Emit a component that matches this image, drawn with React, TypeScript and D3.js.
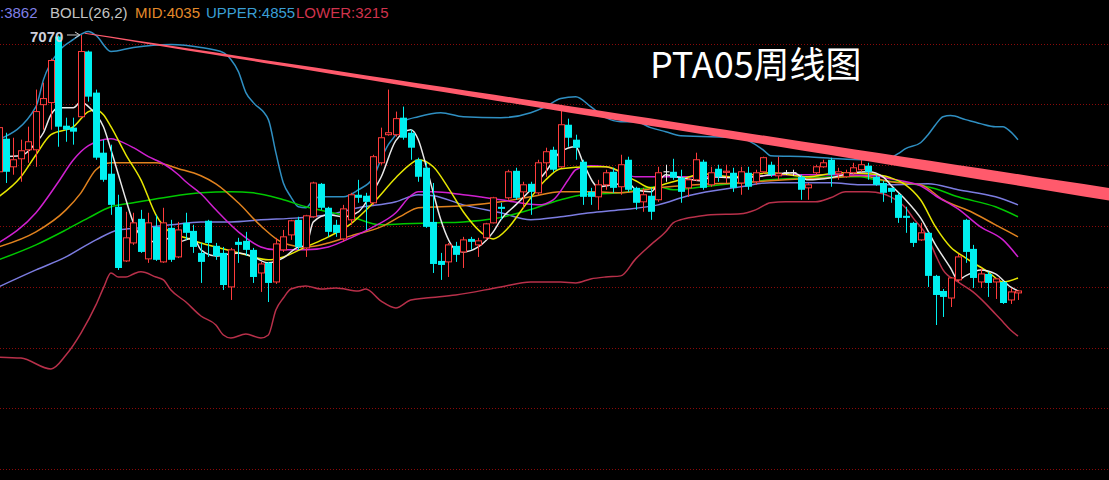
import React from 'react';
import * as d3 from 'd3';

const W = 1109;
const H = 480;
const TITLE = 'PTA05周线图';
const FIRST_WEEK = -1;

// weekly OHLC (week index starts at FIRST_WEEK)
const opens = [5945,6217,5986,6052,6126,6126,6497,6514,7057,6324,6308,6398,6934,6596,6102,5929,5657,5212,5360,5558,5229,5492,5204,5484,5245,5525,5459,5278,5542,5336,5278,4998,5369,5377,5303,5113,5196,5039,5303,5426,5550,5319,5575,5846,5649,5509,5393,5550,5756,5748,5690,6019,6250,6250,6390,6266,6044,5978,5533,5212,5204,5336,5286,5393,5344,5402,5525,5657,5731,5953,5780,5846,5772,6019,6126,5986,6332,6209,6028,5780,5739,5838,5945,5822,6044,5813,5698,5748,5715,5945,5945,5896,5813,5879,6028,5838,5970,5940,5937,5853,5937,5863,5945,6003,5912,5937,5937,5904,5813,5937,5986,6044,5929,5904,5937,5962,5995,5904,5853,5813,5756,5583,5525,5385,5443,5089,4965,4907,5056,5550,5311,5039,5105,5039,5039,4891,4949];
const highs = [6332,6266,6225,6209,6316,6621,6678,6876,7065,6390,6390,7070,6942,6621,6209,6168,5756,5616,5608,5632,5608,5591,5649,5550,5533,5608,5509,5360,5550,5360,5327,5319,5402,5451,5319,5204,5204,5402,5467,5550,5575,5591,5863,5853,5657,5550,5673,5772,5879,5772,6085,6308,6621,6440,6481,6291,6061,6019,5853,5278,5360,5369,5410,5410,5402,5525,5739,5690,5962,5978,5863,5863,6044,6143,6151,6456,6382,6250,6044,5813,5879,5962,5978,6085,6069,5822,5813,5813,5986,6003,6052,5962,5896,6102,6044,5986,6003,6003,5978,5986,5986,5962,6069,6028,6069,5960,5962,5921,5853,6003,6044,6061,5978,5962,6019,6052,6019,5921,5871,5813,5772,5657,5533,5525,5451,5097,4981,5080,5270,5558,5344,5154,5122,5072,5047,4990,4973];
const lows = [5921,5853,5921,5863,6019,5986,6291,6291,6151,6192,6168,6390,6522,6044,5863,5591,5138,5204,5344,5278,5196,5212,5196,5204,5235,5385,5278,5031,5245,5221,4973,4891,5196,5253,5031,4957,4874,5023,5286,5385,5303,5245,5566,5632,5410,5410,5369,5509,5690,5467,5673,6003,6242,6234,6209,6044,5863,5484,5113,5056,5080,5204,5154,5303,5245,5385,5520,5550,5715,5715,5649,5591,5756,5904,5945,5978,6151,6044,5673,5673,5632,5797,5772,5756,5780,5632,5616,5550,5698,5863,5879,5690,5739,5870,5797,5822,5863,5853,5780,5756,5797,5838,5929,5904,5879,5920,5912,5715,5715,5921,5978,5822,5879,5896,5921,5945,5879,5830,5698,5690,5525,5443,5327,5377,4998,4685,4751,4833,5039,5196,4990,4990,4916,4899,4858,4858,4891];
const closes = [6308,5945,6044,6118,6192,6440,6547,6860,6316,6291,6275,6934,6563,6061,5879,5673,5154,5402,5525,5286,5525,5221,5525,5221,5467,5443,5327,5204,5360,5253,5014,5303,5344,5303,5080,5187,5031,5352,5410,5542,5327,5583,5853,5649,5451,5443,5640,5756,5731,5698,6069,6225,6266,6382,6225,6143,5904,5492,5187,5179,5344,5262,5385,5369,5377,5517,5731,5640,5945,5731,5838,5780,6019,6110,5962,6332,6225,6143,5739,5739,5838,5937,5813,6003,5797,5690,5756,5616,5937,5945,5896,5780,5879,6044,5813,5937,5904,5950,5813,5945,5822,5937,6061,5921,5929,5937,5937,5797,5838,5986,6019,5921,5945,5937,5978,6003,5945,5838,5772,5780,5566,5566,5360,5443,5089,4932,4916,5072,5245,5286,5072,5105,5031,5064,4866,4957,4965];

// indicator lines: [week, price]
const ma5: [number, number][] = [[-1,6069],[2,6077],[4,6184],[5,6266],[6,6415],[7,6472],[9,6472],[10,6522],[11,6481],[12,6415],[13,6316],[14,6126],[15,5921],[16,5715],[17,5525],[18,5418],[20,5369],[21,5402],[22,5385],[23,5369],[25,5402],[26,5303],[28,5253],[30,5270],[31,5278],[33,5245],[35,5196],[37,5237],[39,5327],[40,5336],[41,5533],[43,5591],[45,5575],[47,5616],[48,5690],[50,5896],[52,6201],[54,6291],[55,6209],[56,6003],[57,5772],[58,5550],[60,5303],[61,5286],[63,5327],[65,5451],[66,5550],[68,5673],[70,5797],[72,5945],[74,6110],[76,6151],[77,6019],[79,5822],[81,5838],[83,5855],[84,5797],[86,5780],[88,5921],[90,5896],[93,5871],[94,5904],[97,5896],[100,5904],[102,5921],[105,5937],[107,5879],[110,5896],[113,5937],[115,5945],[117,5904],[118,5838],[120,5715],[122,5566],[124,5344],[126,5154],[127,5056],[128,5089],[130,5138],[132,5105],[134,4998],[135,4965]];
const ma10: [number, number][] = [[-1,5739],[2,5904],[4,6085],[6,6250],[9,6316],[11,6440],[12,6456],[13,6415],[14,6316],[16,6085],[18,5879],[20,5591],[22,5443],[24,5402],[26,5360],[28,5327],[32,5262],[35,5221],[37,5245],[40,5327],[43,5410],[46,5517],[49,5690],[52,5896],[54,6011],[55,6044],[57,5986],[59,5813],[61,5616],[64,5418],[65,5393],[67,5484],[69,5649],[72,5879],[74,5970],[78,5986],[80,5986],[84,5871],[86,5813],[88,5846],[90,5879],[93,5929],[97,5904],[102,5937],[107,5904],[111,5937],[115,5929],[118,5896],[120,5838],[122,5715],[124,5492],[126,5327],[128,5237],[131,5122],[133,5039],[135,5072]];
const ma20: [number, number][] = [[-1,5360],[4,5608],[7,5863],[9,6044],[11,6160],[14,6217],[15,6201],[17,6143],[19,6069],[21,6011],[23,5921],[24,5863],[26,5764],[28,5632],[31,5451],[34,5327],[36,5303],[40,5303],[43,5327],[46,5402],[49,5492],[52,5608],[54,5748],[55,5780],[57,5780],[61,5756],[66,5715],[71,5673],[73,5715],[75,5879],[76,5962],[78,5995],[80,5986],[82,5945],[84,5904],[87,5904],[98,5904],[104,5921],[110,5921],[116,5912],[118,5887],[122,5830],[124,5748],[127,5640],[130,5492],[133,5385],[135,5245]];
const ma60: [number, number][] = [[-1,5221],[4,5344],[8,5467],[11,5566],[14,5657],[17,5690],[21,5731],[26,5772],[30,5780],[33,5772],[37,5715],[40,5657],[43,5616],[46,5575],[50,5509],[53,5517],[57,5525],[61,5533],[65,5558],[69,5616],[74,5715],[77,5756],[82,5772],[87,5822],[89,5797],[93,5822],[98,5855],[102,5879],[107,5896],[111,5904],[114,5904],[116,5879],[120,5855],[124,5805],[127,5739],[132,5657],[135,5575]];
const ma120: [number, number][] = [[-1,4998],[4,5138],[8,5245],[12,5385],[15,5467],[18,5484],[22,5509],[26,5533],[30,5533],[34,5550],[39,5566],[43,5591],[47,5649],[52,5698],[55,5756],[57,5748],[61,5673],[66,5608],[70,5550],[74,5575],[78,5608],[82,5632],[87,5673],[91,5748],[98,5822],[102,5855],[110,5855],[114,5838],[118,5838],[123,5846],[127,5797],[132,5739],[135,5673]];
const bollMid: [number, number][] = [[-1,5327],[4,5451],[8,5632],[10,5772],[12,5962],[14,6019],[17,6019],[20,6019],[23,5970],[26,5912],[28,5846],[31,5690],[34,5500],[37,5360],[40,5327],[43,5360],[46,5418],[50,5492],[53,5591],[55,5649],[61,5665],[66,5698],[70,5739],[74,5780],[78,5780],[82,5772],[87,5813],[92,5838],[98,5855],[104,5879],[110,5896],[114,5912],[118,5863],[122,5838],[125,5715],[129,5608],[132,5509],[135,5410]];
const bollUpper: [number, number][] = [[-1,6209],[4,6481],[5,6703],[7,6934],[9,7033],[11,7098],[12,7066],[14,6934],[17,6967],[22,6991],[26,6967],[29,6925],[30,6868],[31,6769],[32,6596],[33,6514],[35,6374],[36,6102],[37,5853],[38,5739],[39,5657],[40,5649],[41,5715],[42,5739],[45,5739],[47,5797],[49,5896],[50,6044],[51,6168],[52,6250],[53,6357],[55,6398],[58,6431],[61,6398],[66,6390],[70,6431],[72,6481],[74,6547],[76,6563],[78,6481],[80,6390],[82,6357],[84,6357],[86,6308],[88,6275],[90,6242],[98,6225],[99,6201],[101,6126],[102,6077],[107,6069],[111,6052],[115,6044],[118,6061],[119,6094],[120,6135],[122,6184],[123,6250],[124,6332],[125,6398],[126,6407],[128,6374],[130,6341],[132,6316],[133,6316],[134,6275],[135,6209]];
const bollLower: [number, number][] = [[-1,4421],[2,4413],[6,4323],[8,4438],[10,4619],[12,4850],[13,4990],[14,5113],[15,5080],[16,5080],[17,5105],[18,5122],[20,5080],[21,5056],[22,4973],[24,4874],[26,4759],[28,4685],[29,4603],[30,4578],[32,4611],[34,4578],[35,4603],[36,4809],[37,4907],[38,4981],[40,5006],[42,4981],[44,4990],[47,4965],[48,4981],[50,4883],[52,4825],[54,4891],[56,4907],[60,4932],[66,4998],[70,5039],[74,5039],[76,5031],[78,5064],[80,5080],[82,5089],[84,5229],[86,5344],[88,5451],[89,5525],[90,5550],[92,5575],[94,5591],[98,5599],[100,5632],[102,5690],[104,5698],[108,5698],[110,5731],[112,5780],[115,5780],[117,5764],[118,5739],[120,5649],[121,5566],[123,5402],[124,5262],[125,5138],[127,5039],[129,4957],[132,4776],[133,4710],[134,4644],[135,4594]];

const gridPrices = [7000, 6500, 6000, 5500, 5000, 4500, 4000, 3500];
const peakPrice = 7070;
const peakWeek = 10;
const trendStart: [number, number] = [10.5, 7085];
const trendEnd: [number, number] = [147.2, 5760];

const legend = [
  { text: ':3862', color: '#7f7fe6', x: 0 },
  { text: 'BOLL(26,2)', color: '#c4c4c4', x: 50 },
  { text: 'MID:4035', color: '#e58a2a', x: 135 },
  { text: 'UPPER:4855', color: '#3a9fd6', x: 206 },
  { text: 'LOWER:3215', color: '#d0334c', x: 296 },
];

const UP = '#ff3c3c';
const DOWN = '#00f0f0';

export default function App() {
  const x = d3.scaleLinear().domain([0, 135]).range([6, 1018]);
  const y = d3.scaleLinear().domain([3500, 7000]).range([469.1, 43.5]);

  const line = d3
    .line<[number, number]>()
    .x((d) => x(d[0]))
    .y((d) => y(d[1]))
    .curve(d3.curveMonotoneX);

  const series: { data: [number, number][]; color: string }[] = [
    { data: bollLower, color: '#b8304a' },
    { data: bollUpper, color: '#2f8fc2' },
    { data: ma120, color: '#7c7ce0' },
    { data: ma60, color: '#00c800' },
    { data: bollMid, color: '#e0821e' },
    { data: ma20, color: '#d020d0' },
    { data: ma10, color: '#e6e600' },
    { data: ma5, color: '#e8e8e8' },
  ];

  // trend line as a widening band
  const tx0 = x(trendStart[0]);
  const ty0 = y(trendStart[1]);
  const tx1 = x(trendEnd[0]);
  const ty1 = y(trendEnd[1]);
  const steps = 40;
  const top: string[] = [];
  const bot: string[] = [];
  for (let s = 0; s <= steps; s++) {
    const f = s / steps;
    const px = tx0 + (tx1 - tx0) * f;
    const py = ty0 + (ty1 - ty0) * f;
    const t = 1 + 11.5 * f;
    top.push(`${px.toFixed(1)},${(py - t / 2).toFixed(1)}`);
    bot.unshift(`${px.toFixed(1)},${(py + t / 2).toFixed(1)}`);
  }
  const trendPoly = top.concat(bot).join(' ');

  const candles = opens.map((o, k) => {
    const i = k + FIRST_WEEK;
    const c = closes[k];
    const h = highs[k];
    const l = lows[k];
    const cx = Math.round(x(i)) + 0.5;
    const yo = y(o);
    const yc = y(c);
    const yh = y(h);
    const yl = y(l);
    const bt = Math.min(yo, yc);
    const bb = Math.max(yo, yc);
    if (o === c) {
      return (
        <g key={k}>
          <line x1={cx} x2={cx} y1={yh} y2={yl} stroke="#e8e8e8" strokeWidth={1} />
          <line x1={cx - 3} x2={cx + 3} y1={yo} y2={yo} stroke="#e8e8e8" strokeWidth={1.2} />
        </g>
      );
    }
    if (c > o) {
      return (
        <g key={k}>
          <line x1={cx} x2={cx} y1={yh} y2={bt} stroke={UP} strokeWidth={1} />
          <line x1={cx} x2={cx} y1={bb} y2={yl} stroke={UP} strokeWidth={1} />
          <rect x={cx - 3} y={bt} width={6} height={Math.max(1, bb - bt)} fill="#000" stroke={UP} strokeWidth={1} />
        </g>
      );
    }
    return (
      <g key={k}>
        <line x1={cx} x2={cx} y1={yh} y2={yl} stroke={DOWN} strokeWidth={1} />
        <rect x={cx - 3.5} y={bt} width={7} height={Math.max(1.2, bb - bt)} fill={DOWN} />
      </g>
    );
  });

  const px = x(peakWeek);
  const py = y(peakPrice);

  return (
    <svg
      width={W}
      height={H}
      viewBox={`0 0 ${W} ${H}`}
      style={{ position: 'absolute', left: 0, top: 0, display: 'block', background: '#000' }}
    >
      <rect x={0} y={0} width={W} height={H} fill="#000" />
      {gridPrices.map((g) => (
        <line
          key={g}
          x1={0}
          x2={W}
          y1={Math.round(y(g)) + 0.5}
          y2={Math.round(y(g)) + 0.5}
          stroke="#8a0a0a"
          strokeWidth={1}
          strokeDasharray="1 2"
        />
      ))}
      {series.map((s, idx) => (
        <path key={idx} d={line(s.data) || ''} fill="none" stroke={s.color} strokeWidth={1.5} />
      ))}
      {candles}
      <polygon points={trendPoly} fill="#ff5a6c" />
      <text
        x={650}
        y={78}
        fill="#ffffff"
        fontSize={36}
        fontFamily="'Noto Sans CJK SC', 'Noto Sans', sans-serif"
      >
        {TITLE}
      </text>
      {legend.map((d) => (
        <text key={d.text} x={d.x} y={18} fill={d.color} fontSize={15} fontFamily="'Liberation Sans', Arial, sans-serif">
          {d.text}
        </text>
      ))}
      <text
        x={px - 51}
        y={py + 7}
        fill="#cfd0dc"
        fontSize={15}
        fontWeight="bold"
        fontFamily="'Liberation Sans', Arial, sans-serif"
      >
        {peakPrice}
      </text>
      <line x1={px - 14} x2={px - 2} y1={py} y2={py} stroke="#c8c8c8" strokeWidth={1} />
      <path d={`M${px - 6},${py - 3} L${px - 1},${py} L${px - 6},${py + 3}`} fill="none" stroke="#c8c8c8" strokeWidth={1} />
    </svg>
  );
}
